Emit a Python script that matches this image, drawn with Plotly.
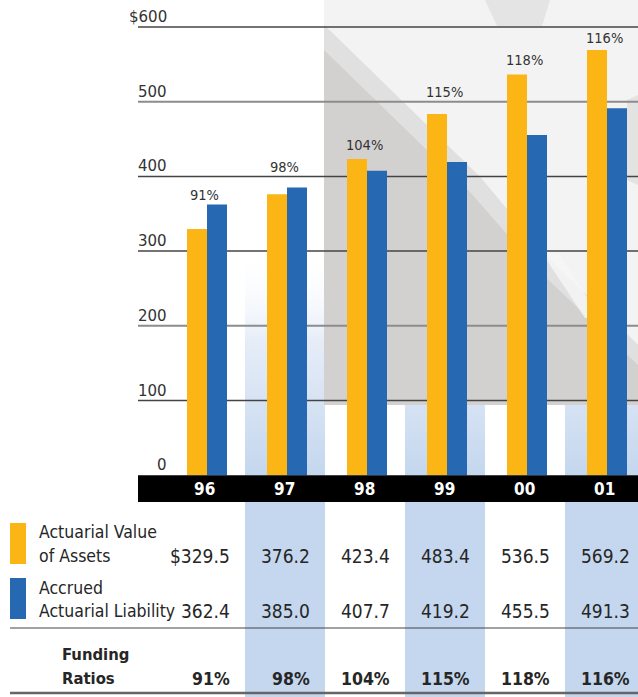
import plotly.graph_objects as go

# -----------------------------
# Data
# -----------------------------
years = ["96", "97", "98", "99", "00", "01"]
assets = [329.5, 376.2, 423.4, 483.4, 536.5, 569.2]
liability = [362.4, 385.0, 407.7, 419.2, 455.5, 491.3]
ratios = [91, 98, 104, 115, 118, 116]

tick_vals = [0, 100, 200, 300, 400, 500, 600]
tick_text = ["0", "100", "200", "300", "400", "500", "$600"]

asset_label = ["Actuarial Value", "of Assets"]
liab_label = ["Accrued", "Actuarial Liability"]
ratio_label = ["Funding", "Ratios"]

# -----------------------------
# Style
# -----------------------------
YELLOW = "#FBB615"
BLUE = "#2668B2"
PALE = "#C4D7EE"
INK = "#262626"
NARROW = "'DejaVu Sans Condensed', 'DejaVu Sans', sans-serif"
PLAIN = "'DejaVu Sans', sans-serif"

W, H = 638, 697
ZERO_PX = 475.2      # pixel row of value 0
PX_PER_UNIT = 0.747  # pixels per $1
SLOT = 80            # pixels between year groups
FIRST_PX = 207       # pixel column of the first year group

# label lift above the taller bar (px), tuned by eye
label_lift = [9, 21, 14, 22, 14, 12]
# ticks whose gridline is drawn lighter
grid_gray = {200, 500}


def dx(px):
    return (px - FIRST_PX) / SLOT


def dy(py):
    return (ZERO_PX - py) / PX_PER_UNIT


def poly(points, color, opacity=1.0):
    xs = [dx(p[0]) for p in points] + [dx(points[0][0])]
    ys = [dy(p[1]) for p in points] + [dy(points[0][1])]
    return go.Scatter(x=xs, y=ys, fill="toself", mode="none", fillcolor=color,
                      opacity=opacity, hoverinfo="skip", showlegend=False)


idx = list(range(len(years)))
fig = go.Figure()

# pale gradient columns behind alternate years
for i in idx[1::2]:
    x0, x1 = i - 0.525, i + 0.475
    fig.add_trace(go.Scatter(
        x=[x0, x1, x1, x0, x0], y=[0, 0, 300, 300, 0],
        fill="toself", mode="none", hoverinfo="skip", showlegend=False,
        fillgradient=dict(type="vertical", start=300, stop=0,
                          colorscale=[[0, "rgba(255,255,255,0)"], [0.4, "#e6edf8"], [1, PALE]]),
    ))

# grey photo backdrop (rough)
fig.add_trace(poly([(324, 0), (638, 0), (638, 405), (324, 405)], "#d3d1d0"))
fig.add_trace(poly([(324, 0), (638, 0), (638, 345), (545, 255), (480, 177), (324, 25)], "#f3f3f3"))
fig.add_trace(poly([(324, 25), (480, 177), (545, 255), (638, 345), (638, 365),
                    (540, 272), (470, 192), (324, 50)], "#e4e3e3", 0.8))
fig.add_trace(poly([(540, 250), (560, 255), (600, 318), (585, 318)], "#f6f6f6", 0.8))
fig.add_trace(poly([(485, 0), (550, 0), (542, 26), (497, 26)], "#dcdbda", 0.6))
fig.add_trace(poly([(627, 100), (638, 95), (638, 185), (627, 180)], "#dcdbda", 0.7))

# gridlines
for color, width, keep in [("#444444", 1.5, False), ("#8c8c8c", 2, True)]:
    gx, gy = [], []
    for v in tick_vals[1:]:
        if (v in grid_gray) == keep:
            gx += [dx(138), dx(638), None]
            gy += [v, v, None]
    fig.add_trace(go.Scatter(x=gx, y=gy, mode="lines", line=dict(color=color, width=width),
                             hoverinfo="skip", showlegend=False))

# bars sit on an overlaid subplot so they draw above the backdrop
fig.add_trace(go.Bar(x=idx, y=assets, marker=dict(color=YELLOW, line=dict(width=0)),
                     name="Actuarial Value of Assets", xaxis="x2", yaxis="y2"))
fig.add_trace(go.Bar(x=idx, y=liability, marker=dict(color=BLUE, line=dict(width=0)),
                     name="Accrued Actuarial Liability", xaxis="x2", yaxis="y2"))

shapes = []
annotations = []

# black year band
shapes.append(dict(type="rect", x0=dx(138), x1=dx(640), y0=dy(502), y1=0,
                   fillcolor="black", line=dict(width=0), layer="above"))
for i, yr in zip(idx, years):
    annotations.append(dict(x=i, y=dy(488.5), text=yr, showarrow=False, xshift=-3,
                            font=dict(family=NARROW, size=17, color="white", weight="bold")))

# axis labels
for v, t in zip(tick_vals, tick_text):
    annotations.append(dict(x=dx(169), y=v, text=t, xanchor="right", yshift=10, showarrow=False,
                            font=dict(family=PLAIN, size=15, color="#333333")))

# funding ratio labels over bars
for i, a, l, r, lift in zip(idx, assets, liability, ratios, label_lift):
    annotations.append(dict(x=i, y=max(a, l), text=f"{r}%", showarrow=False,
                            xshift=-3, yshift=lift,
                            font=dict(family=NARROW, size=14.5, color="#333333")))

# table: pale columns
for i in idx[1::2]:
    shapes.append(dict(type="rect", x0=i - 0.525, x1=i + 0.475, y0=dy(H + 2), y1=dy(502),
                       fillcolor=PALE, line=dict(width=0), layer="below"))

# legend swatches
shapes.append(dict(type="rect", x0=dx(10), x1=dx(26), y0=dy(564), y1=dy(523),
                   fillcolor=YELLOW, line=dict(width=0)))
shapes.append(dict(type="rect", x0=dx(10), x1=dx(26), y0=dy(619), y1=dy(578),
                   fillcolor=BLUE, line=dict(width=0)))

# rules
shapes.append(dict(type="line", x0=dx(10), x1=dx(640), y0=dy(628), y1=dy(628),
                   line=dict(color="#444444", width=1.2)))
shapes.append(dict(type="line", x0=dx(10), x1=dx(640), y0=dy(693), y1=dy(693),
                   line=dict(color="#666666", width=2.5)))

# row labels
for text, py in zip(asset_label + liab_label, [532, 556, 588, 611]):
    annotations.append(dict(x=dx(37), y=dy(py), text=text, xanchor="left", showarrow=False,
                            font=dict(family=NARROW, size=17.5, color=INK)))
for text, py in zip(ratio_label, [654.5, 678.5]):
    annotations.append(dict(x=dx(60), y=dy(py), text=text, xanchor="left", showarrow=False,
                            font=dict(family=NARROW, size=16.5, color=INK, weight="bold")))

# row values
for i, a, l, r in zip(idx, assets, liability, ratios):
    a_txt = f"${a:.1f}" if i == 0 else f"{a:.1f}"
    for text, py, size, bold in [(a_txt, 556, 19, False), (f"{l:.1f}", 611, 19, False),
                                 (f"{r}%", 678.5, 17.5, True)]:
        annotations.append(dict(x=i + 0.3125, y=dy(py), text=text, xanchor="right", showarrow=False,
                                font=dict(family=NARROW, size=size, color=INK,
                                          weight="bold" if bold else "normal")))

xr = [dx(0), dx(W)]
yr = [dy(H), dy(0)]
fig.update_layout(
    width=W, height=H,
    margin=dict(l=0, r=0, t=0, b=0),
    paper_bgcolor="white", plot_bgcolor="rgba(0,0,0,0)",
    barmode="group", bargap=0.5, bargroupgap=0,
    xaxis=dict(range=xr, visible=False, fixedrange=True),
    yaxis=dict(range=yr, visible=False, fixedrange=True),
    xaxis2=dict(range=xr, visible=False, fixedrange=True, overlaying="x"),
    yaxis2=dict(range=yr, visible=False, fixedrange=True, overlaying="y"),
    shapes=shapes, annotations=annotations,
    showlegend=False,
)

fig.write_html("out.html", config={"displayModeBar": False},
               post_script="document.body.style.margin='0px';")
